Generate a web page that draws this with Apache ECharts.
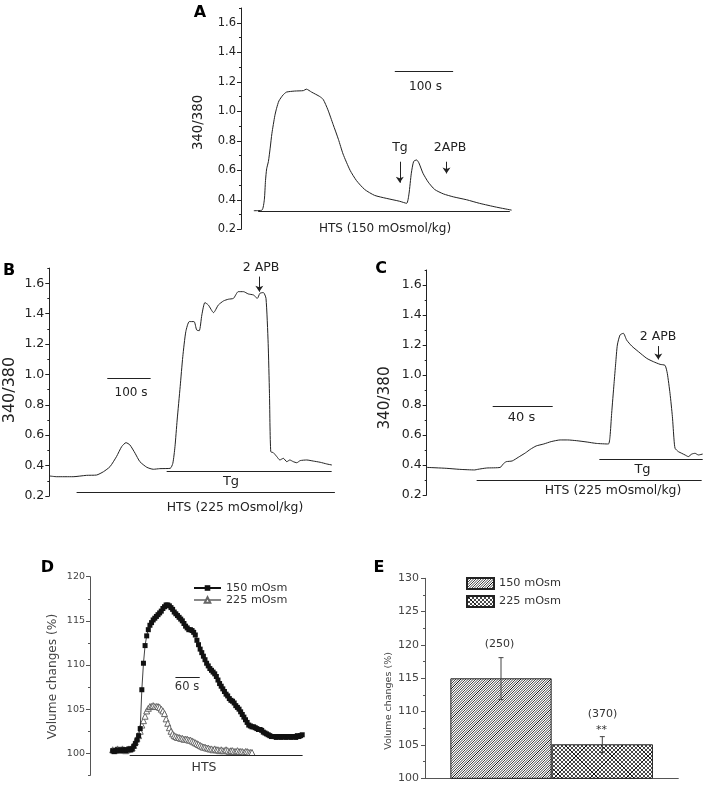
<!DOCTYPE html>
<html><head><meta charset="utf-8">
<script src="https://cdn.jsdelivr.net/npm/echarts@6/dist/echarts.min.js"></script>
<style>html,body{margin:0;padding:0;background:#fff}#c{width:706px;height:785px}</style>
</head><body><div id="c"></div>
<script>
const FONT = "'DejaVu Sans', 'Liberation Sans', sans-serif";

// ---------- Panel A : HTS 150 mOsmol/kg (time in s, 340/380 ratio) ----------
const timeA  = [0,14,18,20,22,25,28,31,36,39,43,50,56,70,85,90,99,113,119,127,136,145,153,165,176,190,207,227,250,262,266,270,274,279,283,290,299,310,325,342,365,387,416,442];
const ratioA = [0.326,0.33,0.40,0.53,0.61,0.66,0.75,0.85,0.97,1.02,1.07,1.11,1.13,1.137,1.14,1.15,1.13,1.10,1.08,1.01,0.91,0.81,0.71,0.60,0.53,0.47,0.43,0.41,0.39,0.376,0.44,0.58,0.66,0.67,0.65,0.58,0.52,0.47,0.44,0.42,0.40,0.376,0.35,0.33];
const barsA   = [[241.7, 341.7, 1.273], [7.4, 438.9, 0.324]];          // [t1, t2, y]
const arrowsA = [[250.3, 0.658, 0.516], [330.3, 0.658, 0.579]];        // [t, yFrom, yTo]

// ---------- Panel B : HTS 225 mOsmol/kg ----------
const timeB  = [0,17,55,86,109,125,140,155,167,177,186,198,209,225,240,255,279,285,290,295,302,308,315,323,334,340,346,352,359,367,379,390,402,413,425,436,448,459,471,480,486,494,500,505,508,511,517,525,532,540,548,555,563,571,579,594,609,625,640,652];
const ratioB = [0.332,0.327,0.327,0.336,0.338,0.36,0.393,0.459,0.525,0.551,0.536,0.481,0.426,0.389,0.376,0.38,0.382,0.415,0.525,0.70,0.92,1.117,1.282,1.348,1.348,1.293,1.288,1.392,1.473,1.457,1.407,1.457,1.484,1.495,1.501,1.545,1.545,1.53,1.523,1.501,1.534,1.539,1.501,1.205,0.876,0.492,0.485,0.459,0.437,0.448,0.426,0.437,0.426,0.419,0.433,0.437,0.43,0.422,0.411,0.404];
const barsB   = [[133.8, 233.8, 0.972], [270.8, 651.5, 0.365], [63, 659, 0.224]];
const arrowsB = [[484.6, 1.644, 1.545]];

// ---------- Panel C : HTS 225 mOsmol/kg ----------
const timeC  = [0,13,22,32,34,40,49,51,53,57,61,66,69,73,78,83,89,94,100,107,113,121.1,122.2,123.3,124.9,126,127.1,128.9,131.1,133.3,136.7,141.1,146.7,151.1,155.6,158.9,160.4,162.2,163.8,164.9,165.6,167.8,170,172.2,174.4,176.7,178.9,181.1,184];
const ratioC = [0.384,0.378,0.371,0.367,0.371,0.38,0.384,0.407,0.422,0.427,0.451,0.482,0.504,0.527,0.54,0.556,0.567,0.567,0.562,0.553,0.544,0.54,0.589,0.744,0.944,1.078,1.2,1.267,1.278,1.233,1.193,1.156,1.111,1.089,1.071,1.064,1.011,0.878,0.722,0.567,0.511,0.489,0.478,0.467,0.456,0.473,0.478,0.467,0.473];
const barsC   = [[44, 84, 0.793], [115.1, 184, 0.44], [33.3, 183.3, 0.3]];
const arrowsC = [[154.4, 1.193, 1.104]];

// ---------- Panel D : volume changes (%) sampled every 4 s ----------
const sampleIntervalD = 4;
const vol150 = [100.3,100.2,100.3,100.4,100.3,100.3,100.4,100.4,100.3,100.4,
 100.5,100.4,100.5,100.8,101.1,101.5,102.0,102.8,107.2,110.2,
 112.2,113.3,114.0,114.5,114.8,115.1,115.3,115.5,115.7,115.9,
 116.1,116.4,116.6,116.8,116.8,116.7,116.5,116.3,116.0,115.8,
 115.6,115.4,115.2,115.0,114.7,114.4,114.2,114.0,114.0,113.9,
 113.7,113.4,112.8,112.3,111.8,111.4,111.0,110.6,110.2,109.9,
 109.6,109.4,109.2,109.0,108.7,108.3,107.9,107.6,107.3,107.0,
 106.7,106.5,106.2,106.0,105.9,105.7,105.4,105.2,105.0,104.7,
 104.4,104.1,103.8,103.5,103.2,103.1,103.0,103.0,102.9,102.8,
 102.7,102.7,102.6,102.4,102.3,102.2,102.1,102.0,101.9,101.9,
 101.9,101.8,101.9,101.9,101.8,101.9,101.9,101.8,101.9,101.9,
 101.8,101.9,101.9,101.8,102.0,101.9,102.0,102.1];
const vol225 = [100.4,100.3,100.4,100.5,100.4,100.4,100.5,100.4,100.3,100.4,
 100.5,100.5,100.6,100.9,101.3,101.7,102.0,102.5,103.2,103.7,
 104.2,104.8,105.1,105.3,105.3,105.4,105.3,105.3,105.3,105.2,
 105.0,104.8,104.5,103.9,103.4,102.9,102.5,102.2,102.0,101.9,
 101.8,101.8,101.7,101.7,101.6,101.6,101.6,101.5,101.5,101.4,
 101.3,101.2,101.1,101.0,100.9,100.8,100.7,100.7,100.6,100.6,
 100.5,100.5,100.4,100.5,100.4,100.4,100.3,100.4,100.3,100.3,
 100.4,100.3,100.2,100.3,100.3,100.2,100.2,100.3,100.2,100.2,
 100.2,100.1,100.2,100.2,100.1,100.1,100.1];
const barsD = [[42, 469, 99.8], [155, 215, 108.67]];

// ---------- Panel E : mean volume change ----------
const groupsE = ['150 mOsm', '225 mOsm'];
const meanE   = [115.0, 105.1];
const lowE    = [111.8, 103.85];
const highE   = [118.1, 106.25];

// ---------- tick values ----------
const ratioTicks = [0.2,0.4,0.6,0.8,1.0,1.2,1.4,1.6];
const ratioMinor = [0.3,0.5,0.7,0.9,1.1,1.3,1.5,1.7];
const dTicks = [100,105,110,115,120];
const dMinor = [97.5,102.5,107.5,112.5,117.5];
const eTicks = [100,105,110,115,120,125,130];
const eMinor = [102.5,107.5,112.5,117.5,122.5,127.5];

// ---------- helpers ----------
const pairs = (xs, ys) => xs.map((x, i) => [x, ys[i]]);
const timeSeries = (vals, dt) => vals.map((v, i) => [i * dt, v]);

function yMajor(grid, min, max, ticks, o) {
  return { type: 'value', gridIndex: grid, min, max, position: 'left', offset: 0,
    axisLine: { show: true, onZero: false, lineStyle: { color: o.color, width: 1 } },
    axisTick: { show: true, inside: false, length: 4, customValues: ticks, lineStyle: { color: o.color, width: 1 } },
    axisLabel: { show: true, customValues: ticks, margin: o.margin, color: o.text, fontSize: o.size, fontFamily: FONT,
      formatter: v => o.dec ? Number(v).toFixed(o.dec) : String(Math.round(v)) },
    splitLine: { show: false } };
}
function yMinor(grid, min, max, ticks, color) {
  return { type: 'value', gridIndex: grid, min, max, position: 'left', offset: 0,
    axisLine: { show: false, onZero: false }, axisLabel: { show: false }, splitLine: { show: false },
    axisTick: { show: true, inside: false, length: 2, customValues: ticks, lineStyle: { color, width: 1 } } };
}
function xHidden(grid, min, max) {
  return { type: 'value', gridIndex: grid, min, max, show: false, axisLine: { onZero: false } };
}
function traceSeries(ax, data) {
  return { type: 'line', xAxisIndex: ax, yAxisIndex: ax, data, showSymbol: false, symbol: 'none',
    smooth: 0.2, lineStyle: { color: '#222', width: 1 }, silent: true, z: 3 };
}
function barLines(ax, bars) {
  return { type: 'lines', coordinateSystem: 'cartesian2d', xAxisIndex: ax, yAxisIndex: ax, silent: true,
    data: bars.map(b => ({ coords: [[b[0], b[2]], [b[1], b[2]]] })),
    symbol: 'none', lineStyle: { color: '#222', width: 1, opacity: 1 }, z: 4 };
}
function arrowLines(ax, arrows) {
  return { type: 'lines', coordinateSystem: 'cartesian2d', xAxisIndex: ax, yAxisIndex: ax, silent: true,
    data: arrows.map(a => ({ coords: [[a[0], a[1]], [a[0], a[2]]] })),
    symbol: ['none', 'arrow'], symbolSize: 6, lineStyle: { color: '#222', width: 1, opacity: 1 },
    itemStyle: { color: '#222' }, z: 4 };
}
function hatch(cross) {
  const s = cross ? 36 : 30, c = document.createElement('canvas');
  c.width = s; c.height = s;
  const g = c.getContext('2d');
  g.fillStyle = '#fff'; g.fillRect(0, 0, s, s);
  const d = cross ? 4 : 2.5;
  g.strokeStyle = cross ? '#333' : '#444'; g.lineWidth = cross ? 0.9 : 1;
  for (let k = -s; k <= 2 * s; k += d) {
    g.beginPath(); g.moveTo(k, s); g.lineTo(k + s, 0); g.stroke();
    if (cross) { g.beginPath(); g.moveTo(k, 0); g.lineTo(k + s, s); g.stroke(); }
  }
  g.strokeStyle = '#111'; g.lineWidth = 1;
  g.beginPath(); g.moveTo(0, s); g.lineTo(s, 0); g.stroke();
  if (cross) { g.beginPath(); g.moveTo(0, 0); g.lineTo(s, s); g.stroke(); }
  return c;
}
const pat1 = { image: hatch(false), repeat: 'repeat' };
const pat2 = { image: hatch(true), repeat: 'repeat' };
const BAR_W = 101.3;

function txt(text, x, y, size, o = {}) {
  const font = (o.bold ? 'bold ' : '') + size + 'px ' + FONT;
  return { type: 'text', x, y, rotation: o.rot || 0, silent: true, z: 10,
    style: { text, font, fill: o.color || '#222', align: 'center', verticalAlign: 'middle',
      textAlign: 'center', textVerticalAlign: 'middle' } };
}

const ABC = { color: '#222', text: '#222', dec: 1 };
const DE  = { color: '#555', text: '#444', dec: 0 };

const option = {
  animation: false,
  backgroundColor: '#fff',
  grid: [
    { left: 241,   top: 8,     width: 275.3, height: 221.3, outerBoundsMode: 'none', containLabel: false },
    { left: 49.3,  top: 268.1, width: 288.2, height: 227.9, outerBoundsMode: 'none', containLabel: false },
    { left: 426.7, top: 270,   width: 279,   height: 225,   outerBoundsMode: 'none', containLabel: false },
    { left: 90,    top: 576.7, width: 220.3, height: 198.7, outerBoundsMode: 'none', containLabel: false },
    { left: 425,   top: 578.3, width: 253.3, height: 200,   outerBoundsMode: 'none', containLabel: false }
  ],
  xAxis: [
    xHidden(0, -22, 450),
    xHidden(1, 0, 665),
    xHidden(2, 0, 186),
    xHidden(3, -56, 488),
    { type: 'category', gridIndex: 4, data: ['HTS'], boundaryGap: true,
      axisLine: { show: true, onZero: false, lineStyle: { color: '#555', width: 1 } },
      axisTick: { show: false }, axisLabel: { show: false }, splitLine: { show: false } }
  ],
  yAxis: [
    yMajor(0, 0.2, 1.7, ratioTicks, Object.assign({ margin: 5, size: 11.5 }, ABC)),
    yMajor(1, 0.2, 1.7, ratioTicks, Object.assign({ margin: 5, size: 12.5 }, ABC)),
    yMajor(2, 0.2, 1.7, ratioTicks, Object.assign({ margin: 5, size: 12.5 }, ABC)),
    yMajor(3, 97.5, 120, dTicks, Object.assign({ margin: 5, size: 9.5 }, DE)),
    yMajor(4, 100, 130, eTicks, Object.assign({ margin: 6, size: 11 }, DE)),
    yMinor(0, 0.2, 1.7, ratioMinor, '#222'),
    yMinor(1, 0.2, 1.7, ratioMinor, '#222'),
    yMinor(2, 0.2, 1.7, ratioMinor, '#222'),
    yMinor(3, 97.5, 120, dMinor, '#555'),
    yMinor(4, 100, 130, eMinor, '#555')
  ],
  legend: [
    { data: ['150 mOsm', '225 mOsm'], orient: 'vertical', left: 193, top: 582.5, itemWidth: 27, itemHeight: 7,
      itemGap: 1, selectedMode: false, padding: 0,
      textStyle: { fontSize: 11.2, color: '#333', fontFamily: FONT } },
    { data: ['E 150 mOsm', 'E 225 mOsm'], orient: 'vertical', left: 466, top: 577, itemWidth: 27, itemHeight: 11,
      itemGap: 5, selectedMode: false, padding: 0, icon: 'rect',
      formatter: n => n.replace(/^E /, ''),
      textStyle: { fontSize: 11.3, color: '#333', fontFamily: FONT } }
  ],
  series: [
    traceSeries(0, pairs(timeA, ratioA)), barLines(0, barsA), arrowLines(0, arrowsA),
    traceSeries(1, pairs(timeB, ratioB)), barLines(1, barsB), arrowLines(1, arrowsB),
    traceSeries(2, pairs(timeC, ratioC)), barLines(2, barsC), arrowLines(2, arrowsC),
    barLines(3, barsD),
    { name: '225 mOsm', type: 'line', xAxisIndex: 3, yAxisIndex: 3, data: timeSeries(vol225, sampleIntervalD),
      symbol: 'triangle', symbolSize: 6, showSymbol: true, showAllSymbol: true,
      lineStyle: { color: '#888', width: 0.8 }, itemStyle: { color: '#fff', borderColor: '#666', borderWidth: 1 }, z: 3 },
    { name: '150 mOsm', type: 'line', xAxisIndex: 3, yAxisIndex: 3, data: timeSeries(vol150, sampleIntervalD),
      symbol: 'rect', symbolSize: 5, showSymbol: true, showAllSymbol: true,
      lineStyle: { color: '#111', width: 0.8 }, itemStyle: { color: '#111', borderWidth: 0 }, z: 4 },
    { name: 'E 150 mOsm', type: 'bar', xAxisIndex: 4, yAxisIndex: 4, data: [meanE[0]], barWidth: BAR_W, barGap: '0%',
      itemStyle: { color: pat1, borderColor: '#222', borderWidth: 1 }, z: 2 },
    { name: 'E 225 mOsm', type: 'bar', xAxisIndex: 4, yAxisIndex: 4, data: [meanE[1]], barWidth: BAR_W, barGap: '0%',
      itemStyle: { color: pat2, borderColor: '#222', borderWidth: 1 }, z: 2 },
    { type: 'custom', xAxisIndex: 4, yAxisIndex: 4, z: 5, silent: true,
      data: groupsE.map((g, i) => [0, lowE[i], highE[i]]),
      renderItem: (params, api) => {
        const side = params.dataIndex === 0 ? -1 : 1;
        const x = api.coord([0, api.value(1)])[0] + side * BAR_W / 2;
        const yLo = api.coord([0, api.value(1)])[1];
        const yHi = api.coord([0, api.value(2)])[1];
        const st = { stroke: '#444', lineWidth: 1 };
        return { type: 'group', children: [
          { type: 'line', shape: { x1: x, y1: yHi, x2: x, y2: yLo }, style: st },
          { type: 'line', shape: { x1: x - 2.5, y1: yHi, x2: x + 2.5, y2: yHi }, style: st },
          { type: 'line', shape: { x1: x - 2.5, y1: yLo, x2: x + 2.5, y2: yLo }, style: st }
        ] };
      } }
  ],
  graphic: [
    txt('A', 200, 13, 16, { bold: true, color: '#000' }),
    txt('B', 9, 270.5, 16, { bold: true, color: '#000' }),
    txt('C', 381, 269, 16, { bold: true, color: '#000' }),
    txt('D', 47.5, 567.5, 16, { bold: true, color: '#000' }),
    txt('E', 379, 567.5, 16, { bold: true, color: '#000' }),
    txt('340/380', 199, 122.5, 13.3, { rot: Math.PI / 2 }),
    txt('340/380', 10, 390, 16, { rot: Math.PI / 2 }),
    txt('340/380', 385, 398, 15.2, { rot: Math.PI / 2 }),
    txt('Volume changes (%)', 52.5, 676.5, 12.2, { rot: Math.PI / 2, color: '#444' }),
    txt('Volume changes (%)', 389, 701, 9.5, { rot: Math.PI / 2, color: '#444' }),
    txt('100 s', 425.5, 86.5, 12),
    txt('Tg', 400, 148, 12.5),
    txt('2APB', 450, 148, 12.5),
    txt('HTS (150 mOsmol/kg)', 385, 229, 12),
    txt('100 s', 131, 393, 12),
    txt('Tg', 231, 482, 13),
    txt('HTS (225 mOsmol/kg)', 235, 507.5, 12.4),
    txt('2 APB', 261, 267.5, 12.5),
    txt('40 s', 521.5, 418, 13),
    txt('Tg', 642.5, 470, 13),
    txt('HTS (225 mOsmol/kg)', 613, 491, 12.4),
    txt('2 APB', 658, 336.7, 12.5),
    txt('60 s', 187, 687, 11.5, { color: '#333' }),
    txt('HTS', 204, 768, 12.5, { color: '#333' }),
    txt('(250)', 499.5, 644, 11, { color: '#333' }),
    txt('(370)', 602.5, 714, 11, { color: '#333' }),
    txt('**', 601.5, 730, 11, { color: '#333' })
  ]
};

const chart = echarts.init(document.getElementById('c'), null, { renderer: 'canvas' });
chart.setOption(option);
</script>
</body></html>
